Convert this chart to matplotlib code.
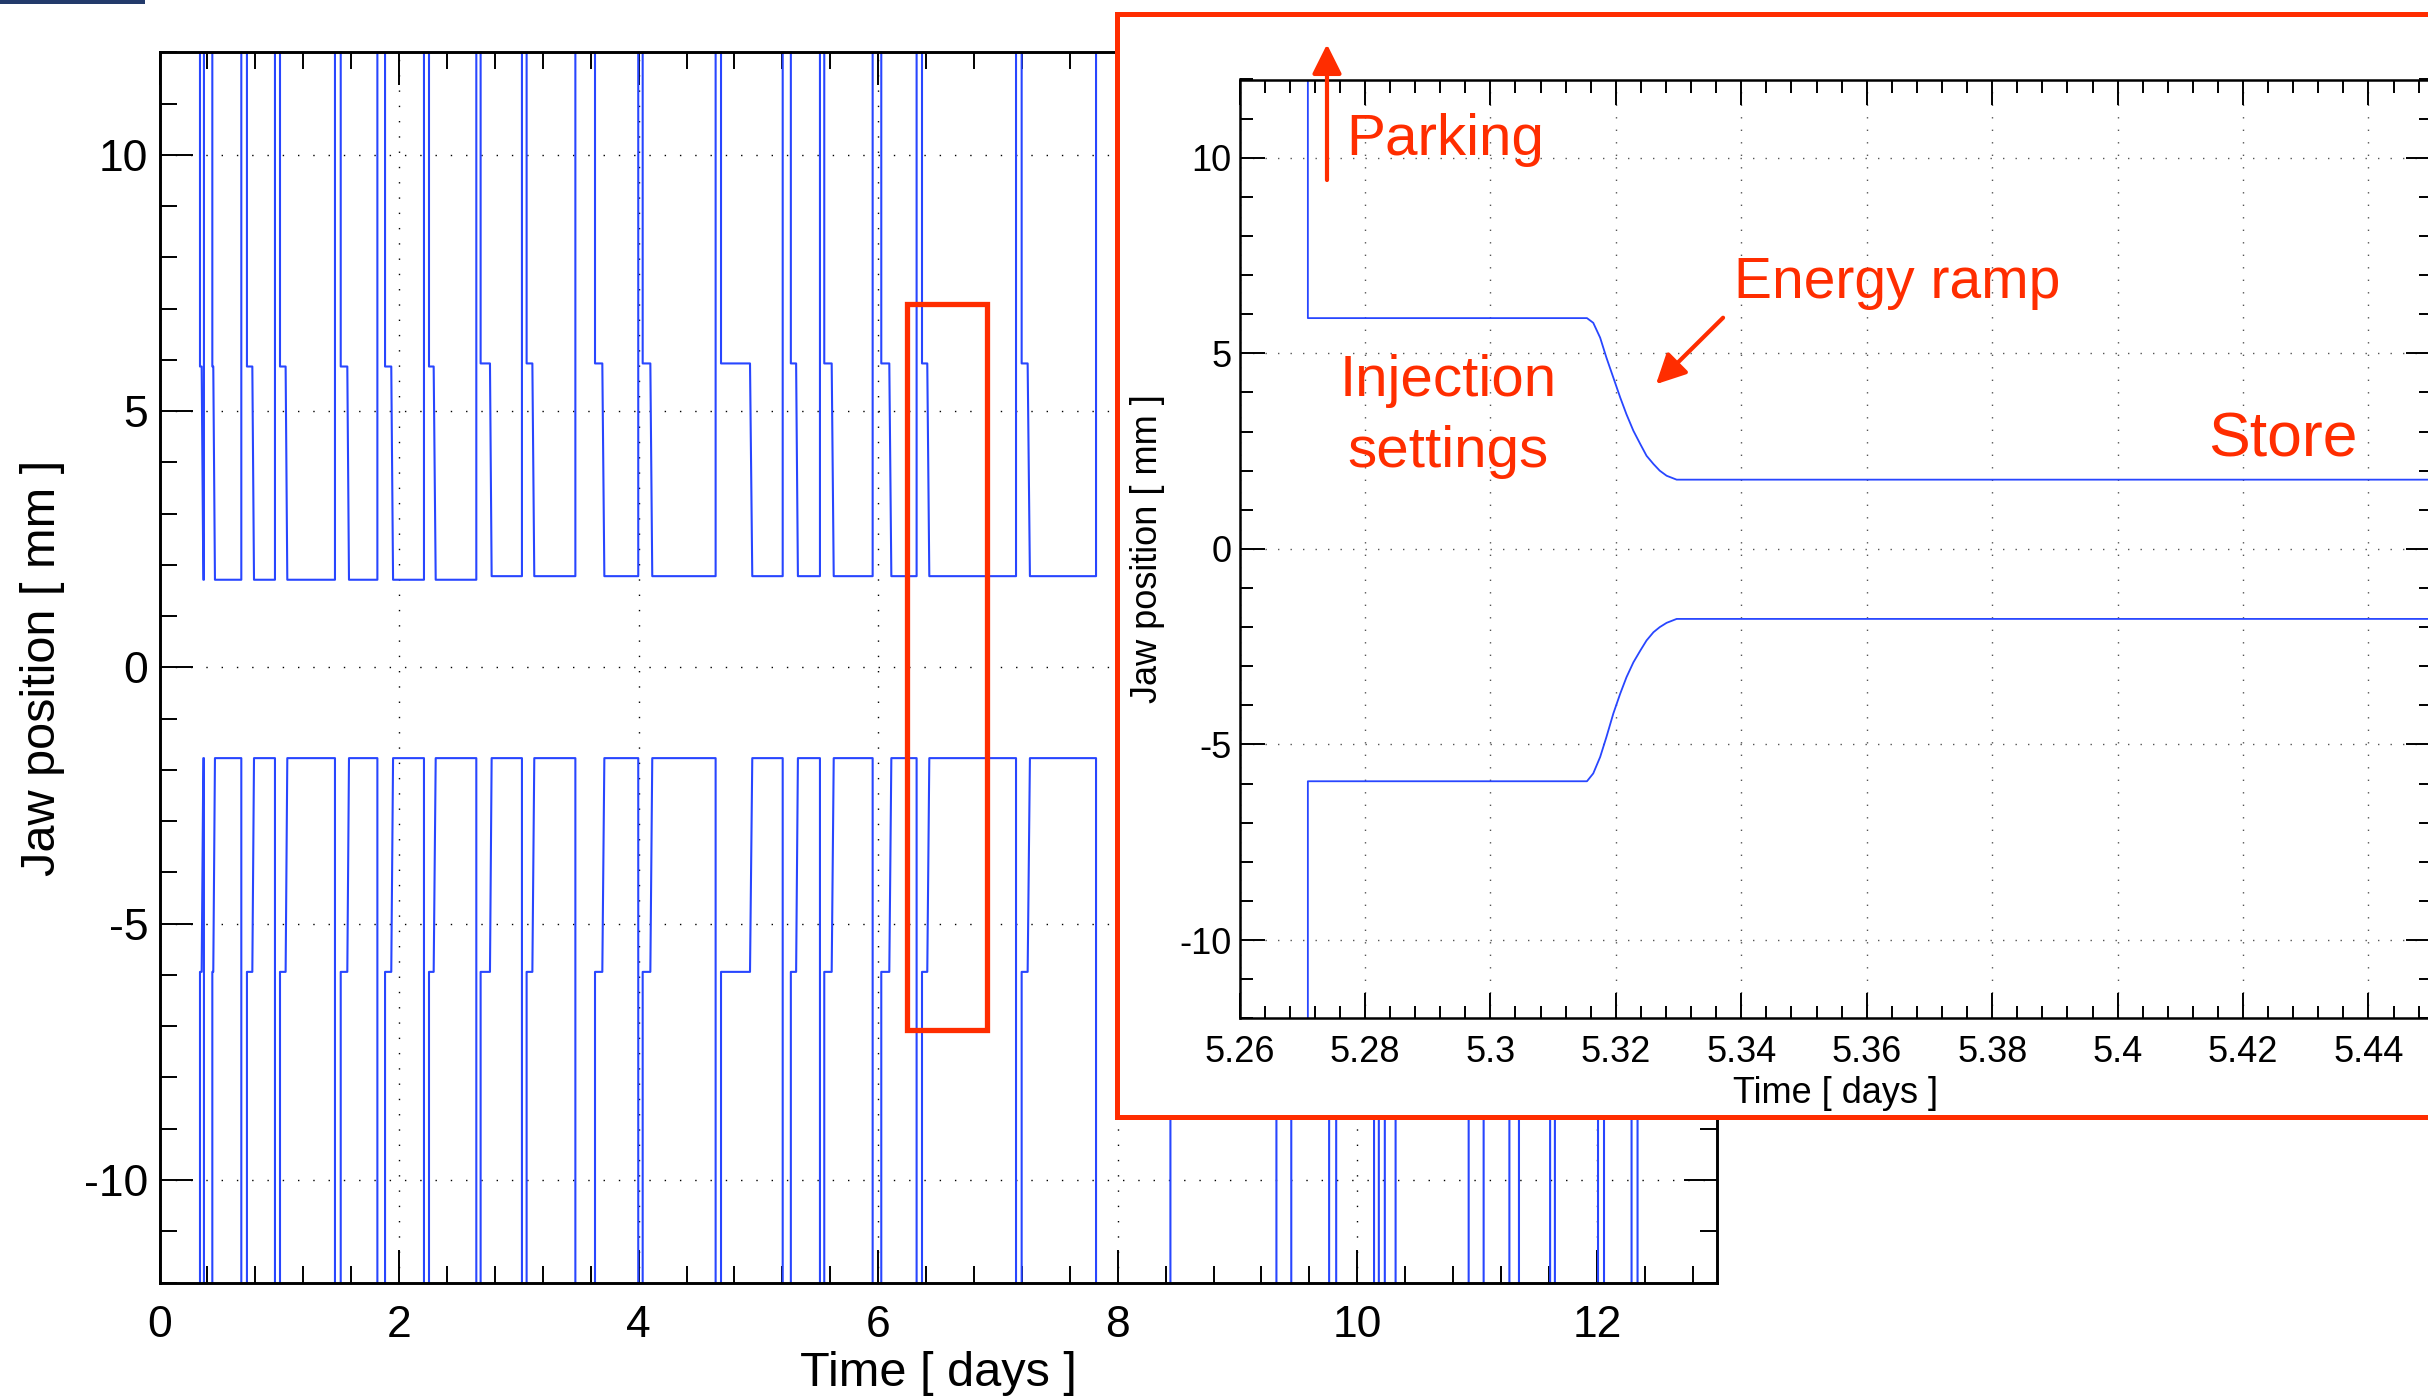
"""Collimator jaw positions over ~13 days of operation, with a zoom on one fill."""

import matplotlib

matplotlib.use("Agg")

import matplotlib.pyplot as plt  # noqa: E402
from matplotlib.patches import Rectangle  # noqa: E402
from matplotlib.ticker import FuncFormatter, MultipleLocator  # noqa: E402

# ── Data ─────────────────────────────────────────────────────────────
# one entry per fill: parking -> injection, ramp start, ramp end, dump
fill_start = [0.338, 0.441, 0.730, 1.006, 1.513, 1.883, 2.250, 2.681, 3.065,
              3.636, 4.034, 4.688, 5.271, 5.550, 6.026, 6.366, 7.198, 8.440,
              9.449, 9.824, 10.180, 10.320, 11.055, 11.350, 11.650, 12.060, 12.340]
ramp_start = [0.352, 0.449, 0.775, 1.053, 1.568, 1.935, 2.289, 2.759, 3.113,
              3.697, 4.098, 4.930, 5.315, 5.612, 6.093, 6.410, 7.248, 8.490,
              9.500, 9.870, 10.195, 10.370, 11.100, 11.400, 11.700, 12.110, 12.390]
ramp_end = [0.366, 0.463, 0.789, 1.067, 1.582, 1.950, 2.306, 2.773, 3.129,
            3.714, 4.114, 4.949, 5.330, 5.629, 6.110, 6.427, 7.267, 8.505,
            9.515, 9.885, 10.205, 10.385, 11.115, 11.415, 11.715, 12.125, 12.405]
dump = [0.371, 0.683, 0.964, 1.465, 1.819, 2.208, 2.645, 3.026, 3.472,
        3.997, 4.643, 5.203, 5.514, 5.954, 6.321, 7.151, 7.819, 9.325,
        9.765, 10.140, 10.230, 10.930, 11.270, 11.610, 12.010, 12.290, None]

upper_inj = [5.87] * 7 + [5.93] * 20
upper_store = [1.71] * 7 + [1.78] * 20
lower_inj = [-5.94] * 27
lower_store = [-1.77] * 27
PARK = 20.0  # jaws parked far outside the plotted range

# zoom on the fill starting at 5.27 days
inset_t = [5.2709, 5.2709, 5.3154, 5.3164, 5.3175, 5.3185, 5.3196, 5.3207, 5.3217,
           5.3228, 5.3239, 5.3249, 5.3260, 5.3270, 5.3281, 5.3297, 5.4600]
inset_upper = [14.0, 5.90, 5.90, 5.78, 5.40, 4.89, 4.38, 3.87, 3.44,
               3.02, 2.68, 2.38, 2.17, 2.00, 1.87, 1.77, 1.77]
inset_lower = [-14.0, -5.94, -5.94, -5.74, -5.32, -4.81, -4.21, -3.70, -3.28,
               -2.90, -2.60, -2.34, -2.13, -2.00, -1.89, -1.79, -1.79]

zoom_box = (6.24, -7.07, 0.665, 14.15)  # red box drawn on the overview

# ── Style ────────────────────────────────────────────────────────────
BLUE = "#2846ff"
RED = "#ff2d00"
NAVY = "#233a6b"
W, H = 2428, 1398

plt.rcParams["font.family"] = ["Liberation Sans", "DejaVu Sans"]
plt.rcParams["axes.unicode_minus"] = False


def build_series(levels_inj, levels_store, park):
    t, y = [], []
    for i in range(len(fill_start)):
        t += [fill_start[i], fill_start[i], ramp_start[i], ramp_end[i]]
        y += [park, levels_inj[i], levels_inj[i], levels_store[i]]
        if dump[i] is not None:
            t += [dump[i], dump[i]]
            y += [levels_store[i], park]
    return t, y


def style_axes(ax, tick_fs, major_len, minor_len, spine_lw):
    for spine in ax.spines.values():
        spine.set_linewidth(spine_lw)
    ax.tick_params(which="both", direction="in", top=True, right=True,
                   width=1.4, labelsize=tick_fs)
    ax.tick_params(which="major", length=major_len)
    ax.tick_params(which="minor", length=minor_len)


fig = plt.figure(figsize=(W / 100, H / 100), dpi=100)
fig.patch.set_facecolor("white")

# ── Overview ─────────────────────────────────────────────────────────
ax = fig.add_axes([159.5 / W, 1 - 1282.5 / H, 1557.1 / W, 1230.2 / H])
t_up, y_up = build_series(upper_inj, upper_store, PARK)
t_lo, y_lo = build_series(lower_inj, lower_store, -PARK)
ax.plot(t_up, y_up, color=BLUE, lw=1.5)
ax.plot(t_lo, y_lo, color=BLUE, lw=1.5)
ax.set_xlim(0, 13)
ax.set_ylim(-12, 12)
ax.xaxis.set_major_locator(MultipleLocator(2))
ax.xaxis.set_minor_locator(MultipleLocator(0.4))
ax.yaxis.set_major_locator(MultipleLocator(5))
ax.yaxis.set_minor_locator(MultipleLocator(1))
ax.grid(True, which="major", color="black", linestyle=(0, (1, 10)), lw=1.0)
style_axes(ax, 32, 24, 12, 2.1)
ax.tick_params(axis="x", pad=16)
ax.tick_params(axis="y", pad=8)
ax.set_xlabel("Time [ days ]", fontsize=35, labelpad=4)
ax.set_ylabel("Jaw position [ mm ]", fontsize=35, labelpad=14)
ax.add_patch(Rectangle(zoom_box[:2], zoom_box[2], zoom_box[3], fill=False,
                       ec=RED, lw=3.8, zorder=5))

# ── Inset frame and zoom ─────────────────────────────────────────────
fig.add_artist(Rectangle((1117 / W, 1 - 1117 / H), 1.02 - 1117 / W, (1117 - 14.3) / H,
                         transform=fig.transFigure, fc="white", ec=RED, lw=3.6,
                         zorder=1))
fig.add_artist(Rectangle((0, 1 - 3.5 / H), 145 / W, 3.5 / H,
                         transform=fig.transFigure, fc=NAVY, ec="none", zorder=3))

ax_in = fig.add_axes([1239.5 / W, 1 - 1018.3 / H, (2431.2 - 1239.5) / W, (1018.3 - 79.5) / H])
ax_in.set_zorder(2)
ax_in.plot(inset_t, inset_upper, color=BLUE, lw=1.3)
ax_in.plot(inset_t, inset_lower, color=BLUE, lw=1.3)
ax_in.set_xlim(5.26, 5.45)
ax_in.set_ylim(-12, 12)
ax_in.xaxis.set_major_locator(MultipleLocator(0.02))
ax_in.xaxis.set_minor_locator(MultipleLocator(0.004))
ax_in.xaxis.set_major_formatter(FuncFormatter(lambda v, _: f"{v:.2f}".rstrip("0")))
ax_in.yaxis.set_major_locator(MultipleLocator(5))
ax_in.yaxis.set_minor_locator(MultipleLocator(1))
ax_in.grid(True, which="major", color="#555555", linestyle=(0, (1, 8)), lw=1.0)
style_axes(ax_in, 26, 18, 9, 1.8)
ax_in.tick_params(axis="x", pad=12)
ax_in.tick_params(axis="y", pad=6)
ax_in.set_xlabel("Time [ days ]", fontsize=26, labelpad=4)
ax_in.set_ylabel("Jaw position [ mm ]", fontsize=26, labelpad=10)

# annotations
arrow_kw = dict(arrowstyle="-|>,head_length=0.5,head_width=0.25", color=RED,
                lw=3, mutation_scale=36, shrinkA=0, shrinkB=0)
ax_in.annotate("", xy=(5.27395, 12.9), xytext=(5.27395, 9.43),
               arrowprops=arrow_kw, annotation_clip=False)
ax_in.annotate("", xy=(5.3264, 4.21), xytext=(5.3371, 5.91),
               arrowprops=arrow_kw, annotation_clip=False)
ax_in.text(5.27695, 10.06, "Parking", color=RED, fontsize=42, va="baseline")
ax_in.text(5.3388, 6.41, "Energy ramp", color=RED, fontsize=41, va="baseline")
ax_in.text(5.2932, 3.91, "Injection", color=RED, fontsize=42, ha="center", va="baseline")
ax_in.text(5.2932, 2.09, "settings", color=RED, fontsize=42, ha="center", va="baseline")
ax_in.text(5.4145, 2.37, "Store", color=RED, fontsize=45, va="baseline")

fig.savefig("out.png", dpi=100, facecolor=fig.get_facecolor())
